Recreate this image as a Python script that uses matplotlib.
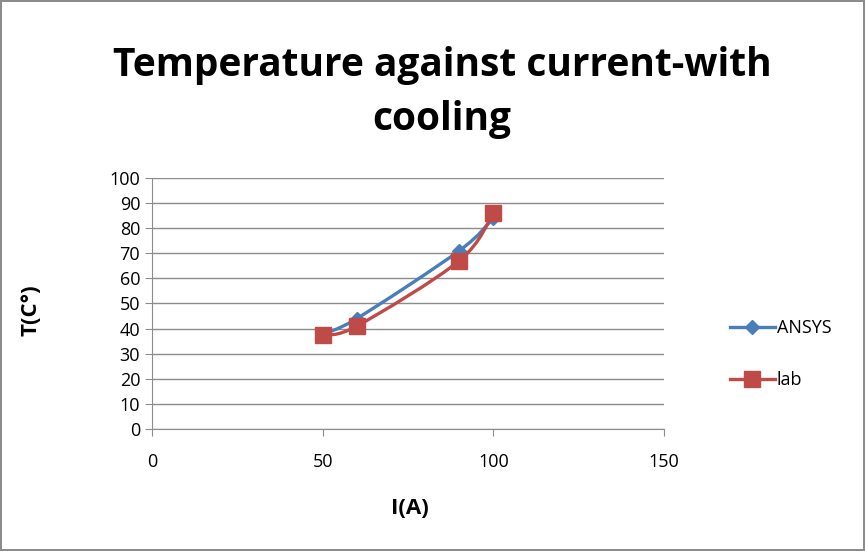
import matplotlib.pyplot as plt
from matplotlib.path import Path
from matplotlib.patches import PathPatch
from matplotlib.lines import Line2D

current = [50, 60, 90, 100]
ansys = [38, 44, 71, 84]
lab = [37.5, 41, 67, 86]

blue = '#4A7EBB'
red = '#BE4B48'

plt.rcParams['font.family'] = ['Open Sans', 'DejaVu Sans']


def smooth_path(xs, ys):
    # Excel-style smoothed line: bezier segments with catmull-rom control points
    verts = [(xs[0], ys[0])]
    codes = [Path.MOVETO]
    n = len(xs)
    for i in range(n - 1):
        x0, y0 = (xs[i - 1], ys[i - 1]) if i > 0 else (xs[i], ys[i])
        x1, y1 = xs[i], ys[i]
        x2, y2 = xs[i + 1], ys[i + 1]
        x3, y3 = (xs[i + 2], ys[i + 2]) if i + 2 < n else (x2, y2)
        c1 = (x1 + (x2 - x0) / 6, y1 + (y2 - y0) / 6)
        c2 = (x2 - (x3 - x1) / 6, y2 - (y3 - y1) / 6)
        verts += [c1, c2, (x2, y2)]
        codes += [Path.CURVE4] * 3
    return Path(verts, codes)


fig = plt.figure(figsize=(8.65, 5.51), dpi=100)
fig.patch.set_edgecolor('#8C8C8C')
fig.patch.set_linewidth(1.5)
ax = fig.add_axes([0.1757, 0.2214, 0.5919, 0.4556])

ax.add_patch(PathPatch(smooth_path(current, ansys), fill=False, edgecolor=blue, lw=2.4, zorder=3))
ax.plot(current, ansys, linestyle='none', marker='D', color=blue, markersize=7, zorder=4)
ax.add_patch(PathPatch(smooth_path(current, lab), fill=False, edgecolor=red, lw=2.4, zorder=5))
ax.plot(current, lab, linestyle='none', marker='s', color=red, markersize=12, zorder=6)

ax.set_xlim(0, 150)
ax.set_ylim(0, 100)
ax.set_xticks([0, 50, 100, 150])
ax.set_yticks(range(0, 101, 10))
ax.yaxis.grid(True, color='#8C8C8C', lw=1)
ax.set_axisbelow(True)
for s in ['top', 'right']:
    ax.spines[s].set_visible(False)
for s in ['left', 'bottom']:
    ax.spines[s].set_color('#8C8C8C')
ax.tick_params(axis='both', labelsize=13, color='#8C8C8C', length=5)
ax.tick_params(axis='x', pad=12)

fig.text(0.511, 0.917, 'Temperature against current-with\ncooling', fontsize=28,
         fontweight='bold', ha='center', va='top', linespacing=1.5)
fig.text(0.474, 0.077, 'I(A)', fontsize=16, fontweight='bold', ha='center', va='center')
fig.text(0.036, 0.437, 'T(C°)', fontsize=16, fontweight='bold', ha='center', va='center',
         rotation=90)

handles = [Line2D([], [], color=blue, lw=2.4, marker='D', markersize=7),
           Line2D([], [], color=red, lw=2.4, marker='s', markersize=11)]
fig.legend(handles, ['ANSYS', 'lab'], loc='center left', bbox_to_anchor=(0.825, 0.357),
           frameon=False, fontsize=13, handlelength=2.5, handletextpad=0.1, labelspacing=1.9)

fig.savefig('out.png', dpi=100)
